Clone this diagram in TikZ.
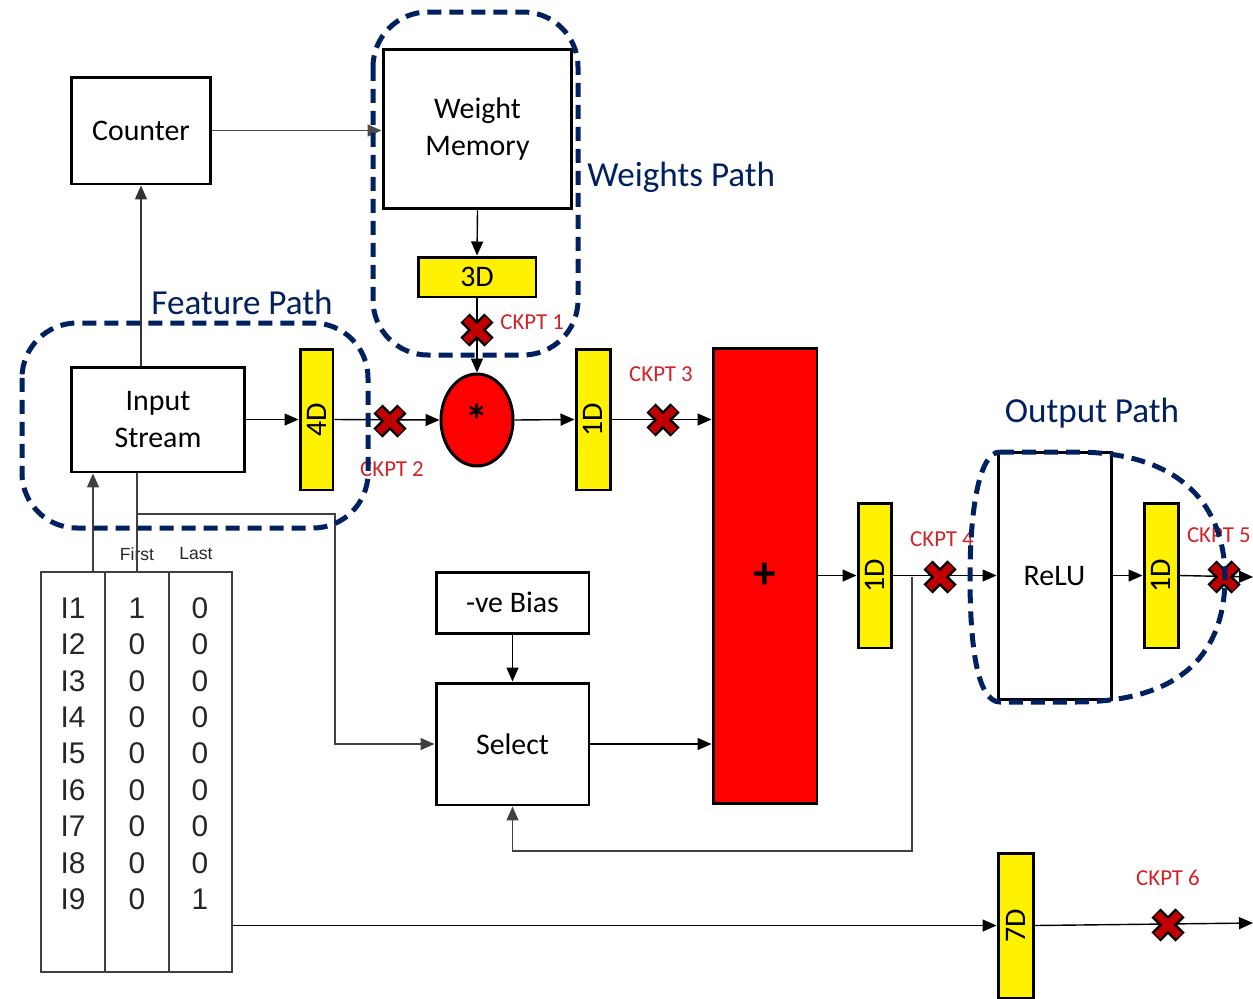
\documentclass[tikz,border=0pt]{standalone}
\usepackage{fontspec}
\setmainfont{Carlito}
\newfontfamily\tabfont{Liberation Sans}
\usetikzlibrary{arrows.meta,shapes.geometric}
\definecolor{pathblue}{RGB}{0,32,96}
\definecolor{ckred}{RGB}{210,35,40}
\definecolor{xred}{RGB}{192,0,0}

\begin{document}
\begin{tikzpicture}[x=0.02cm, y=-0.02cm, every node/.style={font=\fontsize{17}{21}\selectfont}]
  \tikzstyle{blk}=[rectangle,draw,line width=1.7pt,fill=white,inner sep=2pt,align=center]
  \tikzstyle{reg}=[rectangle,draw,line width=1.7pt,fill=yellow,inner sep=0pt]
  \tikzstyle{arr}=[-{Triangle[length=0.28cm,width=0.24cm]},line width=0.8pt]
  \tikzstyle{wire}=[line width=0.8pt]
  \tikzstyle{tcol}=[rectangle,draw=black!75,line width=0.04cm,minimum height=8cm,inner sep=0pt]
  \tikzstyle{tabtxt}=[text=black!85,font=\tabfont\fontsize{17}{20}\selectfont,inner sep=0pt]
  \tikzstyle{grp}=[draw=pathblue,line width=0.1cm,dash pattern=on 0.28cm off 0.16cm,rounded corners=1.1cm]
  \tikzstyle{grplbl}=[text=pathblue,font=\fontsize{20}{24}\selectfont,inner sep=0pt]
  \tikzstyle{cklbl}=[text=ckred,font=\fontsize{13}{15}\selectfont,inner sep=0pt]
  \tikzstyle{xout}=[draw=black,line width=0.26cm]
  \tikzstyle{xin}=[draw=xred,line width=0.16cm]
  \useasboundingbox (0,0) rectangle (1253,998);

  % blocks
  \node[blk,minimum width=2.8cm,minimum height=2.14cm] (cnt) at (141,130.5) {Counter};
  \node[blk,minimum width=3.78cm,minimum height=3.2cm] (wm) at (477.5,129) {Weight\\Memory};
  \node[reg,minimum width=2.36cm,minimum height=0.8cm] (r3) at (477,277) {3D};
  \node[ellipse,draw,line width=1.7pt,fill=red,minimum width=1.44cm,minimum height=1.84cm,inner sep=0pt,font=\bfseries\fontsize{26}{30}\selectfont] (mul) at (477,420) {*};
  \node[blk,minimum width=3.48cm,minimum height=2.1cm] (inp) at (158,419.5) {Input\\Stream};
  \node[reg,minimum width=0.66cm,minimum height=2.82cm] (r4) at (316.5,419.5) {\rotatebox{90}{4D}};
  \node[reg,minimum width=0.68cm,minimum height=2.82cm] (r1a) at (593,419.5) {\rotatebox{90}{1D}};
  \node[rectangle,draw,line width=1.7pt,fill=red,minimum width=2.08cm,minimum height=9.12cm,font=\bfseries\fontsize{26}{30}\selectfont] (add) at (765,576) {+};
  \node[reg,minimum width=0.66cm,minimum height=2.9cm] (r1b) at (874.5,575.5) {\rotatebox{90}{1D}};
  \node[blk,minimum width=2.26cm,minimum height=4.96cm] (relu) at (1054.5,576) {ReLU};
  \node[reg,minimum width=0.68cm,minimum height=2.9cm] (r1c) at (1161,575.5) {\rotatebox{90}{1D}};
  \node[blk,minimum width=3.06cm,minimum height=1.22cm] (bias) at (512.5,602.5) {-ve Bias};
  \node[blk,minimum width=3.06cm,minimum height=2.44cm] (sel) at (512.5,744) {Select};
  \node[reg,minimum width=0.7cm,minimum height=2.9cm] (r7) at (1015.5,925.5) {\rotatebox{90}{7D}};

  % table of first / last flags
  \node[tcol,minimum width=1.28cm] (ci) at (73,772) {};
  \node[tcol,minimum width=1.28cm] (cf) at (137,772) {};
  \node[tcol,minimum width=1.26cm] (cl) at (200.5,772) {};
  \node[tabtxt,font=\tabfont\fontsize{10}{12}\selectfont] (hf) at (137,554) {First};
  \node[tabtxt,font=\tabfont\fontsize{10}{12}\selectfont] (hl) at (196,554) {Last};
  \foreach \r/\f/\l in {1/1/0,2/0/0,3/0/0,4/0/0,5/0/0,6/0/0,7/0/0,8/0/0,9/0/1} {
    \node[tabtxt] (i\r) at (73,{608+(\r-1)*36.4}) {I\r};
    \node[tabtxt] (f\r) at (137,{608+(\r-1)*36.4}) {\f};
    \node[tabtxt] (l\r) at (200,{608+(\r-1)*36.4}) {\l};
  }

  % connections
  \coordinate (iup) at (93,572);
  \coordinate (fj) at (138,514);
  \coordinate (fk) at (335,514);
  \coordinate (fb) at (912,577);
  \coordinate (o5) at (1253,577);
  \coordinate (o6) at (1253,923);
  \draw[arr,black!70] (cnt.east) -- (cnt.east -| wm.west);
  \draw[arr,black!80] (cnt.south |- inp.north) -- (cnt.south);
  \draw[arr] (wm.south) -- (r3.north);
  \draw[arr] (r3.south) -- (mul.north);
  \draw[arr] (inp.east) -- (r4.west);
  \draw[arr] (r4.east) -- (mul.west);
  \draw[arr] (mul.east) -- (r1a.west);
  \draw[arr] (r1a.east) -- (r1a.east -| add.west);
  \draw[arr] (add.east |- r1b.west) -- (r1b.west);
  \draw[arr] (r1b.east) -- (r1b.east -| relu.west);
  \draw[arr] (relu.east |- r1c.west) -- (r1c.west);
  \draw[arr] (r1c.east) -- (o5);
  \draw[arr] (bias) -- (sel);
  \draw[arr] (sel.east) -- (sel.east -| add.west);
  \draw[arr,black!75] (fb) -- ++(0,274) -| (sel.south);
  \draw[arr,black!75] (iup) -- (iup |- inp.south);
  \draw[wire,black!75] (cf.north) -- (cf.north |- inp.south);
  \draw[arr,black!75] (fj) -- (fk) |- (sel.west);
  \draw[arr] (cl.east |- r7.west) -- (r7.west);
  \draw[arr] (r7.east) -- (o6);

  % checkpoints
  \foreach \cx/\cy in {477/330,390/421,663/420,940/577,1224/577,1168/925} {
    \begin{scope}[shift={(\cx,\cy)}]
      \draw[xout] (-12,-12) -- (12,12) (-12,12) -- (12,-12);
      \draw[xin] (-11,-11) -- (11,11) (-11,11) -- (11,-11);
    \end{scope}
  }
  \node[cklbl,anchor=west] (ck1) at (500,322) {CKPT 1};
  \node[cklbl] (ck2) at (392,469) {CKPT 2};
  \node[cklbl] (ck3) at (661,374) {CKPT 3};
  \node[cklbl] (ck4) at (942,539) {CKPT 4};
  \node[cklbl,anchor=east] (ck5) at (1251,535) {CKPT 5};
  \node[cklbl] (ck6) at (1168,878) {CKPT 6};

  % dashed paths
  \draw[grp] (373,12) rectangle (578,355);
  \draw[grp] (22,323) rectangle (368,528);
  \draw[draw=pathblue,line width=0.1cm,dash pattern=on 0.28cm off 0.16cm]
    (1000,452) -- (1075,452) .. controls (1195,452) and (1225,520) .. (1225,577)
    .. controls (1225,640) and (1195,702) .. (1075,702) -- (1000,702)
    .. controls (976,702) and (970,640) .. (970,577)
    .. controls (970,515) and (978,452) .. (1000,452);
  \node[grplbl,anchor=west] (wp) at (587,177) {Weights Path};
  \node[grplbl] (fp) at (242,302) {Feature Path};
  \node[grplbl] (op) at (1092,413) {Output Path};
\end{tikzpicture}
\end{document}
